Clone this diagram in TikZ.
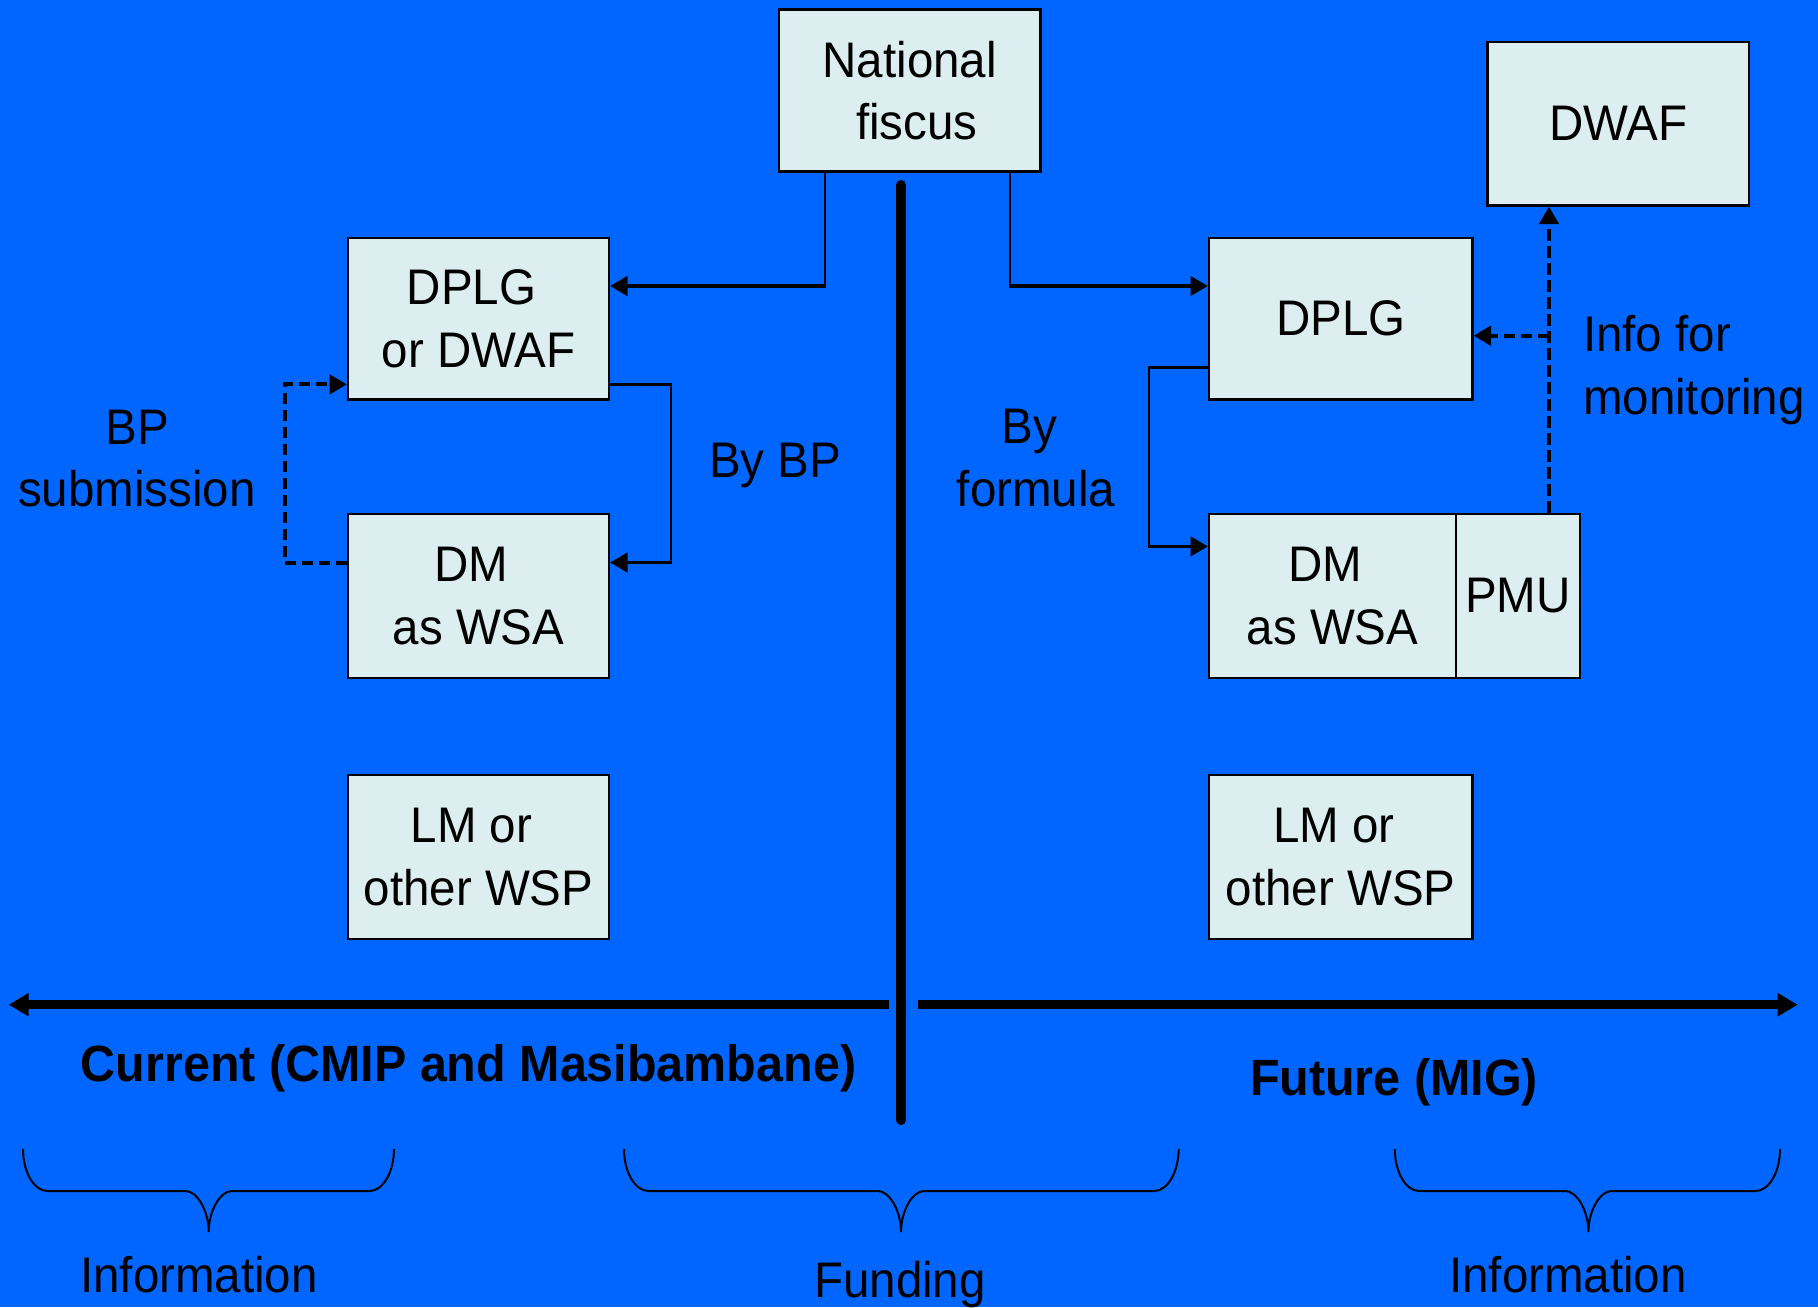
\documentclass[tikz,border=0pt]{standalone}
\usepackage{fontspec}
\setmainfont{Liberation Sans}[FakeStretch=0.95]
\usetikzlibrary{arrows.meta}
\definecolor{bgblue}{RGB}{0,102,255}
\definecolor{boxfill}{RGB}{221,238,240}
\newcommand\trsp{\hbox to 0.278em{}}
\newcommand\mybrace[3]{%
  \draw[bracestyle] (#1,1149) .. controls (#1,1172) and (#1+11,1191) .. (#1+24.5,1191)
    -- (#2-23,1191) .. controls (#2-12,1191) and (#2,1210) .. (#2,1232)
    .. controls (#2,1210) and (#2+12,1191) .. (#2+23,1191)
    -- (#3-24.5,1191) .. controls (#3-11,1191) and (#3,1172) .. (#3,1149);}
\begin{document}
\begin{tikzpicture}[x=0.5pt,y=-0.5pt,
  box/.style={draw=black, line width=1.1pt, fill=boxfill, inner sep=0pt, align=center,
    font=\fontsize{25}{31.3}\selectfont},
  lbl/.style={inner sep=0pt, align=center, font=\fontsize{25}{31.3}\selectfont},
  bold/.style={inner sep=0pt, font=\fontsize{25.5}{31.3}\selectfont\bfseries},
  conn/.style={line width=1.2pt},
  conarrow/.style={line width=1.9pt, -{Triangle[length=8.7pt,width=9.6pt]}},
  dasharrow/.style={line width=2pt, dash pattern=on 5.5pt off 3pt, -{Triangle[length=8.7pt,width=9.6pt]}},
  thindash/.style={line width=1.8pt, dash pattern=on 6pt off 2.5pt, -{Triangle[length=8.7pt,width=9.6pt]}},
  bigarrow/.style={line width=4.4pt, -{Triangle[length=10pt,width=11pt]}},
  divider/.style={line width=5pt, line cap=round},
  bracestyle/.style={line width=1pt}]
\useasboundingbox (0,0) rectangle (1818,1307);
\fill[bgblue] (0,0) rectangle (1818,1307);

% boxes
\node[box, minimum width=130.75pt, minimum height=81pt] (nf) at (909.75,90.5) {National\\\trsp fiscus};
\node[box, minimum width=130.75pt, minimum height=81.75pt] (dwafR) at (1618.25,123.75) {DWAF};
\node[box, minimum width=130.5pt, minimum height=80.75pt] (dplgL) at (478.5,318.75) {DPLG\trsp\\or DWAF};
\node[box, minimum width=130.5pt, minimum height=82pt] (dmL) at (478.5,596) {DM\trsp\\as WSA};
\node[box, minimum width=130.5pt, minimum height=82pt] (lmL) at (478.5,857) {LM or\trsp\\other WSP};
\node[box, minimum width=131.75pt, minimum height=80.75pt] (dplgR) at (1340.75,318.75) {DPLG};
\node[box, minimum width=123.5pt, minimum height=82pt] (dmR) at (1332.5,596) {DM\trsp\\as WSA};
\node[box, minimum width=62pt, minimum height=82pt] (pmu) at (1518,596) {PMU};
\node[box, minimum width=131.75pt, minimum height=82pt] (lmR) at (1340.75,857) {LM or\trsp\\other WSP};

% connector corners
\coordinate (c1) at (825,286);
\coordinate (c2) at (1010,286);
\coordinate (c3a) at (671,384.4);
\coordinate (c3b) at (671,562.5);
\coordinate (c4a) at (284.6,562.5);
\coordinate (c4b) at (284.6,384.4);
\coordinate (c5a) at (1149,367.4);
\coordinate (c5b) at (1149,546.4);
\coordinate (c6) at (1549,335.7);

% National fiscus -> DPLG or DWAF
\draw[conn] (nf.south -| c1) -- (c1);
\draw[conarrow] ([xshift=0.6pt]c1) -- (dplgL.east |- c1);
% National fiscus -> DPLG (right)
\draw[conn] (nf.south -| c2) -- (c2);
\draw[conarrow] ([xshift=-0.6pt]c2) -- (dplgR.west |- c2);
% DPLG or DWAF -> DM (left)
\draw[conn] (dplgL.east |- c3a) -- (c3a) -- (c3b);
\draw[conarrow] ([xshift=0.6pt]c3b) -- (dmL.east |- c3b);
% BP submission (dashed)
\draw[dasharrow] (dmL.west |- c4a) -- (c4a) -- (c4b) -- (dplgL.west |- c4b);
% DPLG (right) -> DM (right)
\draw[conn] (dplgR.west |- c5a) -- (c5a) -- (c5b);
\draw[conarrow] ([xshift=-0.6pt]c5b) -- (dmR.west |- c5b);
% PMU -> DWAF and DPLG (dashed)
\draw[thindash] (pmu.north -| c6) -- (dwafR.south -| c6);
\draw[dasharrow] (c6) -- (dplgR.east |- c6);

% divider and time axis
\coordinate (vt) at (901,185);
\coordinate (vb) at (901,1120);
\draw[divider] (vt) -- (vb);
\coordinate (la) at (888.7,1004.7);
\coordinate (lb) at (8.7,1004.7);
\coordinate (ra) at (917.7,1004.7);
\coordinate (rb) at (1797.7,1004.7);
\draw[bigarrow] (la) -- (lb);
\draw[bigarrow] (ra) -- (rb);

% labels
\node[lbl] (bpsub) at (137,458.5) {BP\\submission};
\node[lbl, anchor=base] (bybp) at (775,477) {By BP};
\node[lbl] (byform) at (1036,458.3) {By\trsp\\formula};
\node[lbl, anchor=west, align=left] (info) at (1582.6,369.8) {Info for\\monitoring};
\node[bold, anchor=base] (current) at (468.6,1081) {Current (CMIP and Masibambane)};
\node[bold, anchor=base] (future) at (1394,1095.7) {Future (MIG)};
\node[lbl, anchor=base] (infoL) at (199,1292) {Information};
\node[lbl, anchor=base] (fund) at (900,1297) {Funding};
\node[lbl, anchor=base] (infoR) at (1568,1292) {Information};

% braces
\mybrace{23}{208.7}{394}
\mybrace{624}{901}{1178.6}
\mybrace{1394.8}{1588.4}{1780}
\end{tikzpicture}
\end{document}
